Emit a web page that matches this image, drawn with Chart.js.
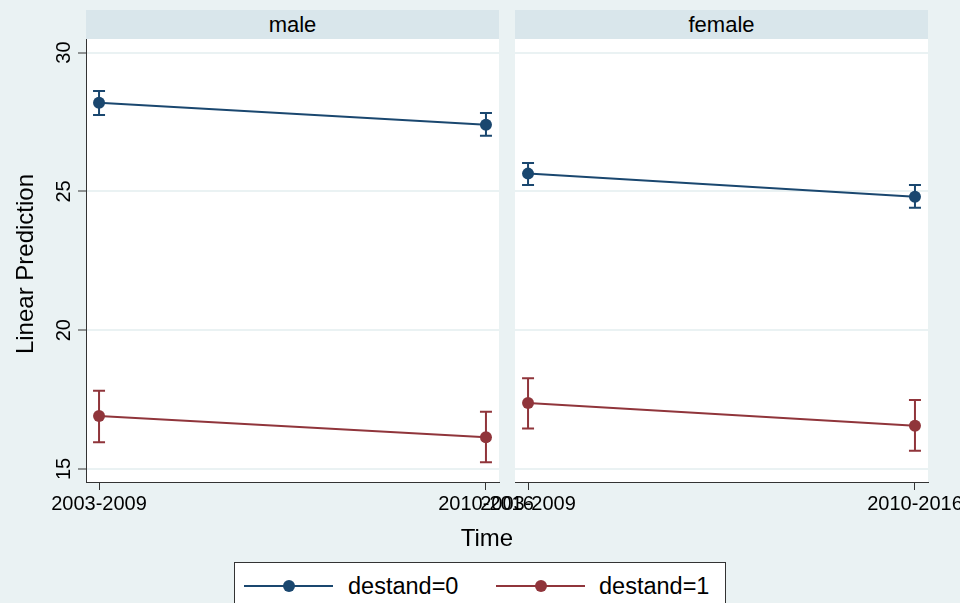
<!DOCTYPE html>
<html>
<head>
<meta charset="utf-8">
<script src="https://cdn.jsdelivr.net/npm/chart.js"></script>
<style>
html, body { margin:0; padding:0; width:960px; height:603px; overflow:hidden; background:#eaf2f3; font-family:"Liberation Sans", Arial, sans-serif; }
.abs { position:absolute; }
.strip { background:#d9e6eb; height:29px; line-height:29px; text-align:center; font-size:22px; color:#000; top:10px; }
.legend { left:234px; top:562px; width:490px; height:60px; background:#fff; border:1px solid #333; }
.lline { position:absolute; height:2px; width:89px; top:22px; }
.ldot { position:absolute; width:12px; height:12px; border-radius:50%; top:17px; }
.ltext { position:absolute; top:7px; font-size:23.5px; line-height:32px; color:#000; }
</style>
</head>
<body>

<div class="abs strip" style="left:86px;width:413px">male</div>
<div class="abs strip" style="left:515px;width:413px">female</div>

<canvas id="left" class="abs" style="left:0;top:0"></canvas>
<canvas id="right" class="abs" style="left:440px;top:0"></canvas>

<div class="abs" style="left:-125px;top:252px;width:300px;text-align:center;font-size:24px;line-height:24px;transform:rotate(-90deg)">Linear Prediction</div>
<div class="abs" style="left:387px;top:526px;width:200px;text-align:center;font-size:24px;line-height:24px">Time</div>

<div class="abs legend">
  <div class="lline" style="left:9px;background:#1a476f"></div>
  <div class="ldot" style="left:48px;background:#1a476f"></div>
  <div class="ltext" style="left:113px">destand=0</div>
  <div class="lline" style="left:261px;background:#90353b"></div>
  <div class="ldot" style="left:300px;background:#90353b"></div>
  <div class="ltext" style="left:364px">destand=1</div>
</div>

<script>
// data
const categories = ['2003-2009', '2010-2016'];
const catPos = [0, 1];
const yTicks = [15, 20, 25, 30];
const seriesNames = ['destand=0', 'destand=1'];
const seriesColors = ['#1a476f', '#90353b'];

const male0   = [28.19, 27.40];
const male0Lo = [27.75, 27.00];
const male0Hi = [28.62, 27.82];
const male1   = [16.91, 16.14];
const male1Lo = [15.96, 15.24];
const male1Hi = [17.82, 17.06];

const female0   = [25.64, 24.81];
const female0Lo = [25.23, 24.41];
const female0Hi = [26.02, 25.23];
const female1   = [17.38, 16.56];
const female1Lo = [16.46, 15.66];
const female1Hi = [18.27, 17.48];

const FONT = '"Liberation Sans", Arial, sans-serif';
const AXIS = '#333';

function ds(name, color, vals, lo, hi) {
  return {
    label: name,
    data: catPos.map((x, i) => ({ x: x, y: vals[i] })),
    lo: lo, hi: hi,
    borderColor: color, backgroundColor: color,
    borderWidth: 2, pointRadius: 6, pointHoverRadius: 6,
    pointBorderWidth: 0, tension: 0
  };
}

const plotBg = {
  id: 'plotBg',
  beforeDraw(chart) {
    const a = chart.chartArea, ctx = chart.ctx;
    ctx.save();
    ctx.fillStyle = '#fff';
    ctx.fillRect(a.left, a.top, a.right - a.left, a.bottom - a.top);
    ctx.restore();
  }
};

const errorBars = {
  id: 'errorBars',
  beforeDatasetsDraw(chart) {
    const ctx = chart.ctx, xs = chart.scales.x, ys = chart.scales.y;
    chart.data.datasets.forEach(d => {
      ctx.save();
      ctx.strokeStyle = d.borderColor;
      ctx.lineWidth = 2;
      catPos.forEach((c, i) => {
        const px = xs.getPixelForValue(c);
        const y1 = ys.getPixelForValue(d.lo[i]);
        const y2 = ys.getPixelForValue(d.hi[i]);
        ctx.beginPath();
        ctx.moveTo(px, y1); ctx.lineTo(px, y2);
        ctx.moveTo(px - 6, y1); ctx.lineTo(px + 6, y1);
        ctx.moveTo(px - 6, y2); ctx.lineTo(px + 6, y2);
        ctx.stroke();
      });
      ctx.restore();
    });
  }
};

// rotated y tick labels, like the original
const yLabels = {
  id: 'yLabels',
  afterDraw(chart) {
    if (!chart.options.showYLabels) return;
    const ctx = chart.ctx, ys = chart.scales.y;
    ctx.save();
    ctx.font = '20px ' + FONT;
    ctx.fillStyle = '#000';
    ctx.textAlign = 'center';
    ctx.textBaseline = 'alphabetic';
    ys.ticks.forEach((t, i) => {
      const py = ys.getPixelForTick(i);
      ctx.save();
      ctx.translate(70, py);
      ctx.rotate(-Math.PI / 2);
      ctx.fillText(String(t.value), 0, 0);
      ctx.restore();
    });
    ctx.restore();
  }
};

function makePanel(id, w, h, pad, datasets, first) {
  const cv = document.getElementById(id);
  cv.width = w; cv.height = h;
  cv.style.width = w + 'px'; cv.style.height = h + 'px';
  return new Chart(cv, {
    type: 'line',
    data: { datasets: datasets },
    options: {
      responsive: false,
      animation: false,
      showYLabels: first,
      layout: { padding: pad },
      plugins: { legend: { display: false }, tooltip: { enabled: false } },
      scales: {
        x: {
          type: 'linear',
          min: -0.0337, max: 1.0337,
          afterBuildTicks: s => { s.ticks = catPos.map(v => ({ value: v })); },
          afterFit: s => { s.height = 48; },
          grid: { drawOnChartArea: false, tickLength: 8, tickColor: AXIS, tickWidth: 1 },
          border: { display: true, color: AXIS, width: 1 },
          ticks: {
            autoSkip: false, maxRotation: 0, minRotation: 0, padding: 2,
            color: '#000', font: { family: FONT, size: 20 },
            callback: v => categories[catPos.indexOf(v)]
          }
        },
        y: {
          type: 'linear',
          min: 14.53, max: 30.49,
          afterBuildTicks: s => { s.ticks = yTicks.map(v => ({ value: v })); },
          afterFit: s => { s.width = 0; },
          grid: { color: '#eaf2f3', lineWidth: 2, drawTicks: first, tickLength: 8, tickColor: AXIS, tickWidth: 1 },
          border: { display: first, color: AXIS, width: 1 },
          ticks: { display: false }
        }
      }
    },
    plugins: [plotBg, errorBars, yLabels]
  });
}

makePanel('left', 560, 530, { left: 86, top: 39, right: 61, bottom: 0 }, [
  ds(seriesNames[0], seriesColors[0], male0, male0Lo, male0Hi),
  ds(seriesNames[1], seriesColors[1], male1, male1Lo, male1Hi)
], true);

makePanel('right', 540, 530, { left: 75, top: 39, right: 52, bottom: 0 }, [
  ds(seriesNames[0], seriesColors[0], female0, female0Lo, female0Hi),
  ds(seriesNames[1], seriesColors[1], female1, female1Lo, female1Hi)
], false);
</script>
</body>
</html>
